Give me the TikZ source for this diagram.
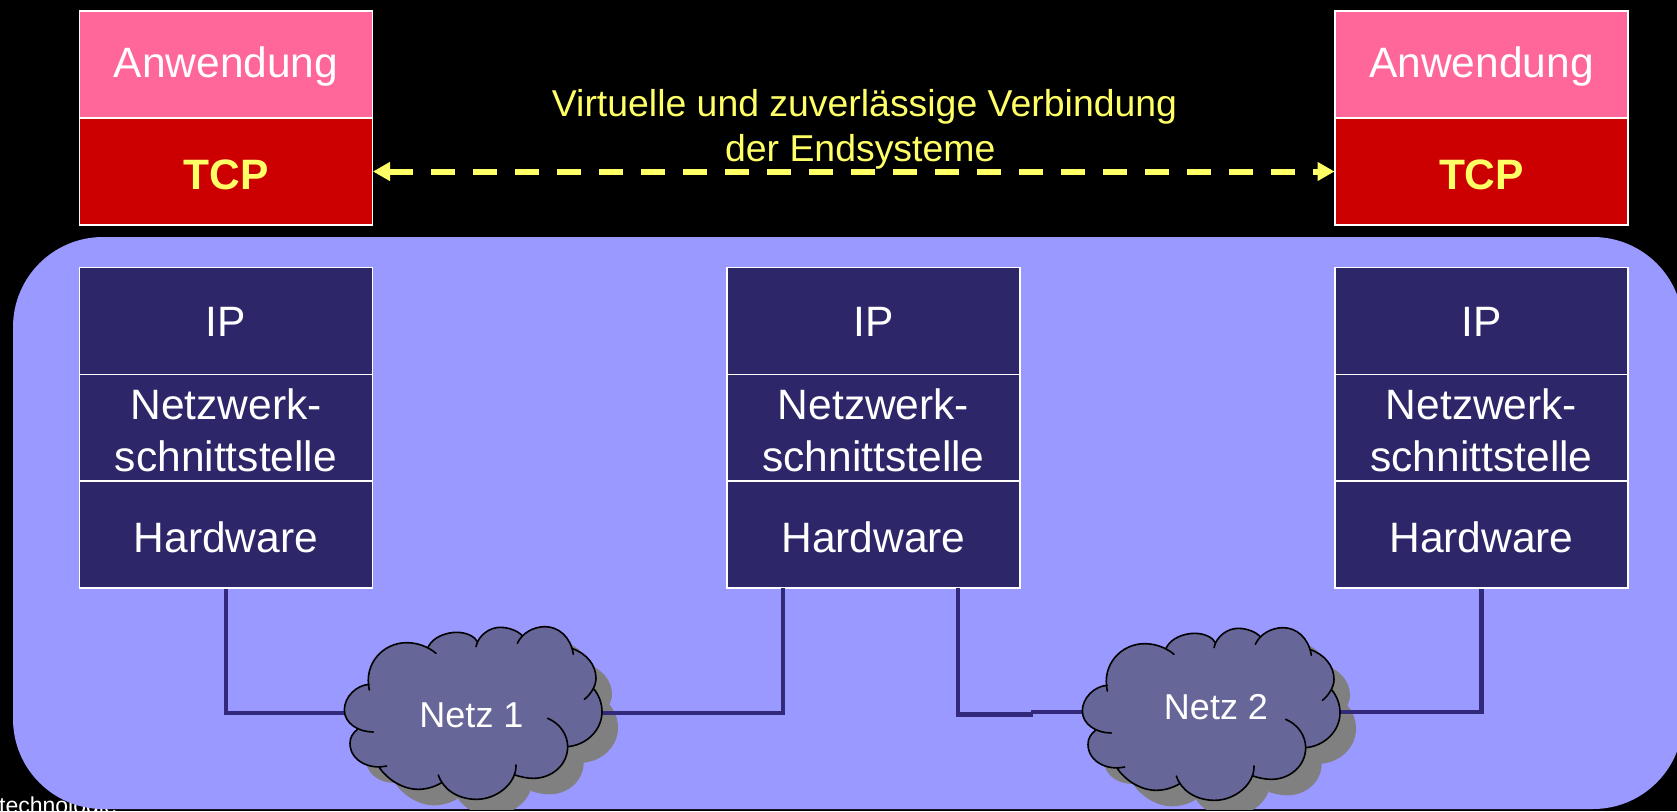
\documentclass[tikz,border=0pt]{standalone}
\usepackage{fontspec}
\setmainfont{Liberation Sans}
\usetikzlibrary{arrows.meta}
\definecolor{bgblue}{HTML}{9999FF}
\definecolor{navy}{HTML}{2D2669}
\definecolor{linenavy}{HTML}{33297A}
\definecolor{tcpred}{HTML}{CC0000}
\definecolor{apppink}{HTML}{FF6699}
\definecolor{cloudfill}{HTML}{666699}
\definecolor{shade}{HTML}{808080}
\definecolor{yel}{HTML}{FFFF66}
\newcommand{\lobes}[2]{\path[#1]
 (208,270) .. controls (190,190) and (250,128) .. (320,128) .. controls (352,128) and (385,140) .. (408,160) #2
 (385,140) .. controls (400,110) and (440,97) .. (470,97) .. controls (500,97) and (525,110) .. (532,125) #2
 (528,140) .. controls (535,105) and (570,82) .. (600,82) .. controls (630,82) and (655,95) .. (665,105) #2
 (652,130) .. controls (665,100) and (700,80) .. (735,80) .. controls (775,80) and (812,110) .. (820,163) #2
 (815,145) .. controls (860,160) and (888,195) .. (888,235) .. controls (888,260) and (870,285) .. (853,298) #2
 (880,265) .. controls (897,285) and (906,310) .. (906,335) .. controls (906,390) and (860,435) .. (803,440) #2
 (743,355) .. controls (780,370) and (803,405) .. (803,440) .. controls (803,495) and (755,535) .. (700,535) .. controls (680,535) and (660,530) .. (645,525) #2
 (648,495) .. controls (650,550) and (590,598) .. (530,598) .. controls (475,598) and (430,570) .. (415,525) #2
 (425,548) .. controls (405,560) and (380,568) .. (355,568) .. controls (305,568) and (260,535) .. (238,503) #2
 (260,498) .. controls (205,510) and (150,480) .. (150,430) .. controls (150,412) and (158,400) .. (172,388) #2
 (220,396) .. controls (175,396) and (133,370) .. (133,330) .. controls (133,290) and (170,255) .. (208,253);}
\tikzset{
 x=1pt,y=-1pt,
 cell/.style={draw=white,line width=1.8pt,minimum width=293pt,minimum height=107pt,inner sep=0pt},
 celltext/.style={inner sep=0pt,align=center,text=white,font=\fontsize{42.5}{52}\selectfont},
 stackcell/.style={cell,fill=navy},
 appcell/.style={cell,fill=apppink},
 tcpcell/.style={cell,fill=tcpred},
 tcptext/.style={celltext,text=yel,font=\fontsize{42.5}{52}\selectfont\bfseries},
 wire/.style={draw=linenavy,line width=4.2pt,line join=miter},
 vlabel/.style={text=yel,align=center,inner sep=0pt,font=\fontsize{37.4}{45}\selectfont},
 cloudlabel/.style={text=white,inner sep=0pt,font=\fontsize{36}{44}\selectfont},
 cloudscope/.style={x=0.33333pt,y=-0.33333pt},
}
\begin{document}
\begin{tikzpicture}
\useasboundingbox (0,0) rectangle (1677,811);
\fill[black] (0,0) rectangle (1677,811);
\begin{scope}
\clip (0,0) rectangle (1677,811);
\node[text=white,anchor=base west,inner sep=0pt,font=\fontsize{23}{28}\selectfont] (tech) at (-1,813.5) {technologie};
\fill[bgblue,rounded corners=90pt] (13,237) rectangle (1683,809);
\end{scope}
% stacks
\node[appcell] (app1) at (226,64.5) {};
\node[tcpcell] (tcp1) at (226,171.5) {};
\node[appcell] (app2) at (1481.5,64.5) {};
\node[tcpcell] (tcp2) at (1481.5,171.5) {};
\node[celltext] (app1t) at (226,67) {Anwendung};
\node[tcptext] (tcp1t) at (226,174.5) {TCP};
\node[celltext] (app2t) at (1481.5,67) {Anwendung};
\node[tcptext] (tcp2t) at (1481.5,174.5) {TCP};
\foreach \n/\cx in {1/226,2/873.5,3/1481.5}{
 \node[stackcell] (ip\n) at (\cx,321) {};
 \node[stackcell] (nw\n) at (\cx,428) {};
 \node[stackcell] (hw\n) at (\cx,534.5) {};
 \node[celltext] (ip\n t) at (\cx,322) {IP};
 \node[celltext] (nw\n t) at (\cx,430) {Netzwerk-\\schnittstelle};
 \node[celltext] (hw\n t) at (\cx,537) {Hardware};
}
% virtual link
\node[vlabel] (vtext) at (864.5,129.5) {Virtuelle und zuverlässige Verbindung\\der Endsysteme\hspace*{8.5pt}};
\coordinate (va) at (373,171.5);
\coordinate (vb) at (1334.5,171.5);
\draw[yel,line width=6pt,dash pattern=on 24pt off 18pt,{Triangle[length=17pt,width=18pt]}-{Triangle[length=17pt,width=18pt]}] (va) -- (vb);
% shadows
\begin{scope}
\clip (13,237) rectangle (1683,809);
\begin{scope}[shift={(316,616)},cloudscope]\lobes{fill=shade}{--}\end{scope}
\begin{scope}[shift={(1054,617)},cloudscope]\lobes{fill=shade}{--}\end{scope}
\end{scope}
% connectors
\coordinate (n1) at (472,713);
\coordinate (n2) at (1216,712);
\coordinate (m1) at (783,588);
\coordinate (m2) at (958,588);
\coordinate (k2) at (1033,714.5);
\coordinate (k3) at (1031,712);
\draw[wire] (hw1.south) |- (n1);
\draw[wire] (m1) |- (n1);
\draw[wire] (m2) |- (k2);
\draw[wire] (k3) -- (n2);
\draw[wire] (hw3.south) |- (n2);
% clouds
\begin{scope}[shift={(300,600)},cloudscope]\lobes{fill=cloudfill}{--}\lobes{draw=black,line width=1.6pt,line cap=round}{}\end{scope}
\begin{scope}[shift={(1038,601)},cloudscope]\lobes{fill=cloudfill}{--}\lobes{draw=black,line width=1.6pt,line cap=round}{}\end{scope}
\node[cloudlabel] (netz1) at (471.5,715) {Netz 1};
\node[cloudlabel] (netz2) at (1216,707) {Netz 2};
\end{tikzpicture}
\end{document}
